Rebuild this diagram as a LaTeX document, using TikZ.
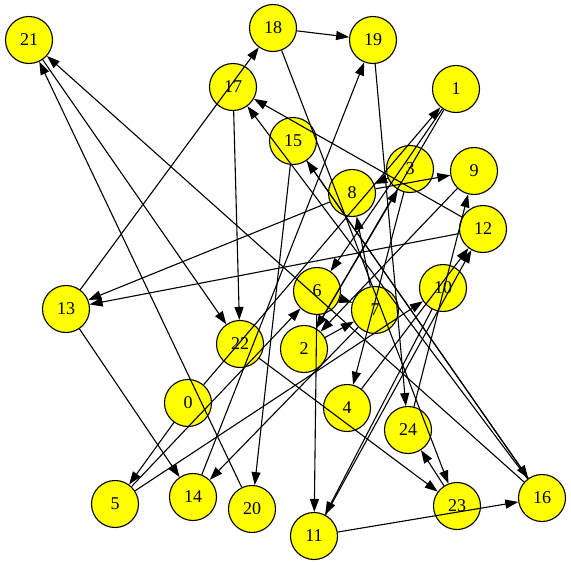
\documentclass[tikz,border=0pt]{standalone}
\usepackage{fontspec}
\setmainfont{Liberation Serif}
\usetikzlibrary{arrows.meta}
\definecolor{cyellow}{HTML}{FFFF00}
\tikzset{
  every picture/.style={line width=1.1pt},
  vertex/.style={circle, draw=black, fill=cyellow, minimum size=47pt, inner sep=0pt, font=\fontsize{18}{20}\selectfont},
  arrow/.style={-{Triangle[length=13pt, width=9pt]}, draw=black},
}
\begin{document}
\begin{tikzpicture}[x=1pt, y=-1pt]
  \useasboundingbox (0,0) rectangle (571,565);
  % vertices, pixel positions from the top left corner
  \foreach \n/\x/\y in {0/188/403, 1/456/89, 2/304/349, 3/410/169, 4/347/408,
      5/115/504, 6/317/291, 7/375/310, 8/352/193, 9/474/171, 10/443/288,
      11/314/536, 12/483/229, 13/66/309, 14/193/497, 15/293/141, 16/542/498,
      17/233/87, 18/273/28, 19/373/40, 20/252/509, 21/29/40, 22/240/344,
      23/457/506, 24/408/430} {
    \node[vertex] (v\n) at (\x,\y) {\n};
  }
  % edges, drawn over the vertices
  \foreach \a/\b in {20/21, 16/21, 21/22, 17/22, 13/18, 18/19, 14/19, 12/17,
      16/17, 8/13, 12/13, 13/14, 8/9, 0/5, 5/6, 5/10, 22/23, 6/11, 6/7,
      19/24, 11/16, 18/23, 23/24, 3/4, 4/12, 11/12, 10/11, 7/8, 15/20,
      2/3, 1/2, 0/1, 1/6, 2/7, 7/14, 15/16, 16/15, 3/8, 24/9, 9/2} {
    \draw[arrow] (v\a) -- (v\b);
  }
\end{tikzpicture}
\end{document}
